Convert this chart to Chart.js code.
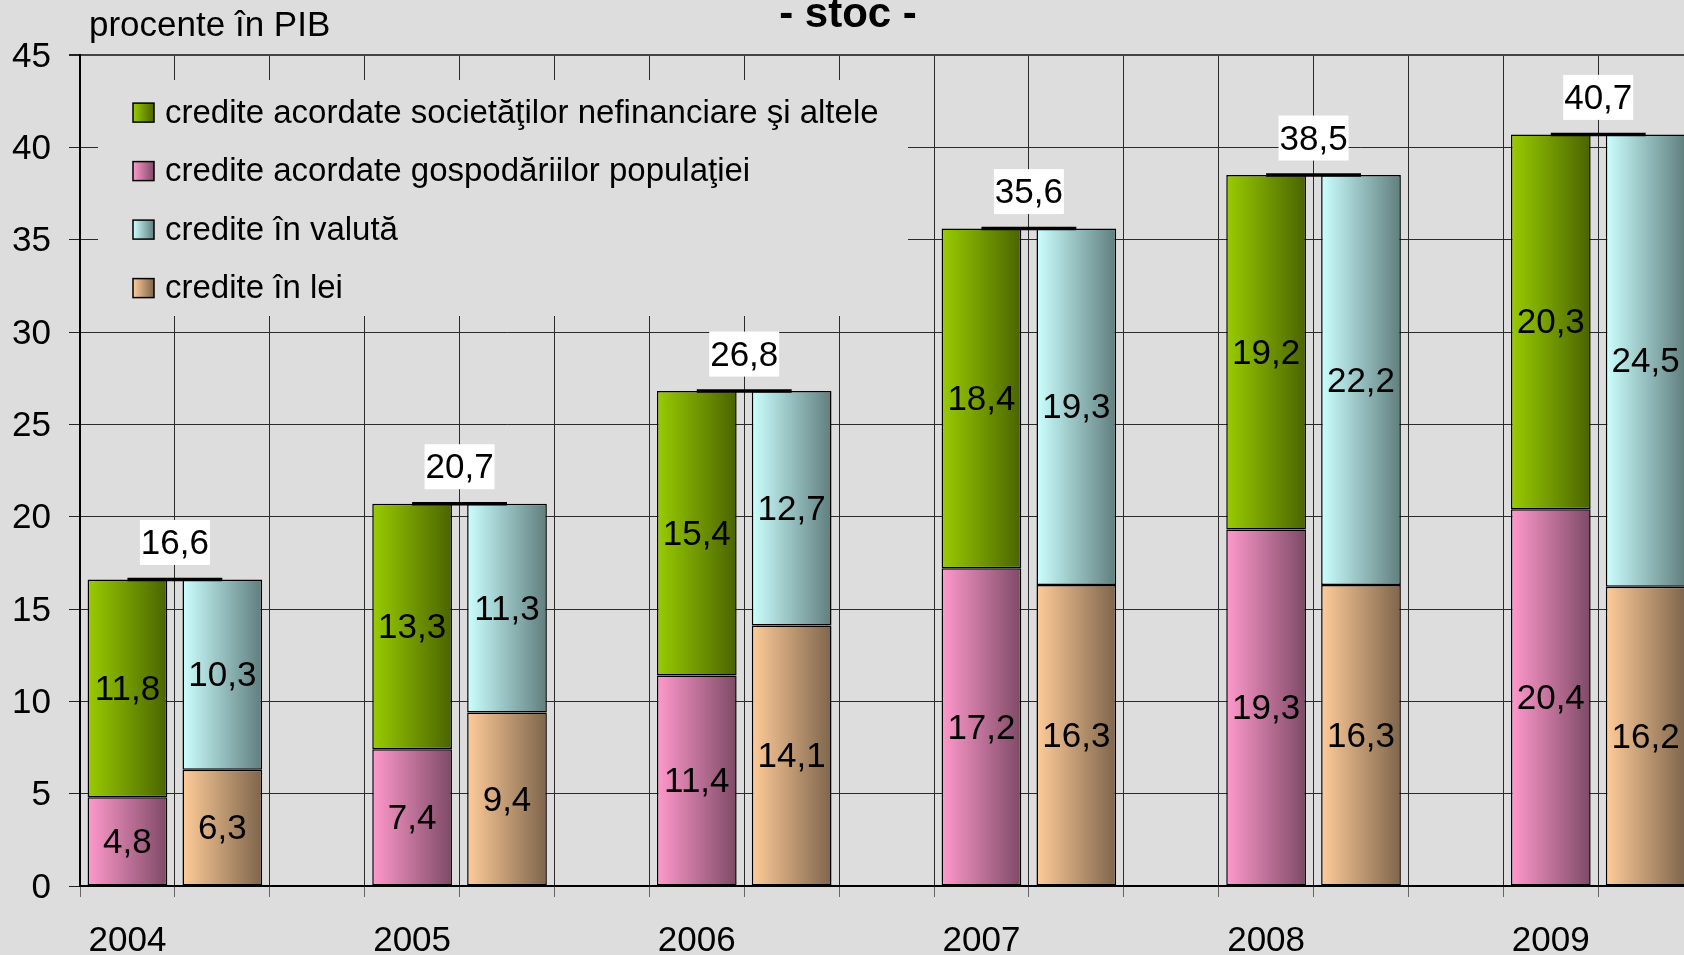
<!DOCTYPE html>
<html><head><meta charset="utf-8">
<script src="https://cdn.jsdelivr.net/npm/chart.js@4.4.1/dist/chart.umd.min.js"></script>
<style>
html,body{margin:0;padding:0;background:#dddddd;overflow:hidden;width:1684px;height:955px}
canvas{display:block}
</style></head><body>
<canvas id="c" width="1795" height="955"></canvas>
<script>
// ---- data ----
const years = ['2004', '2005', '2006', '2007', '2008', '2009'];
const societati = [11.8, 13.3, 15.4, 18.4, 19.2, 20.3];   // green
const gospodarii = [4.8, 7.4, 11.4, 17.2, 19.3, 20.4];    // pink
const valuta = [10.3, 11.3, 12.7, 19.3, 22.2, 24.5];      // cyan
const lei = [6.3, 9.4, 14.1, 16.3, 16.3, 16.2];           // orange
const totals = [16.6, 20.7, 26.8, 35.6, 38.5, 40.7];
const seriesNames = [
  'credite acordate societăţilor nefinanciare şi altele',
  'credite acordate gospodăriilor populaţiei',
  'credite în valută',
  'credite în lei'
];
const chartTitle = '- stoc -';
const unitLabel = 'procente în PIB';

const FONT = '"Liberation Sans", Arial, sans-serif';
const BAR_PCT = 0.84;

// three slots per year: [households/companies stack, lei/valuta stack, gap]
const slotLabels = [];
years.forEach(y => slotLabels.push(y, '', ''));
const slotA = arr => arr.flatMap(v => [v, null, null]);
const slotB = arr => arr.flatMap(v => [null, v, null]);
const slotAB = arr => arr.flatMap(v => [v, v, null]);

const colors = {
  green: ['#99cc00', '#4a6400'],
  pink: ['#ff99cc', '#7e4a66'],
  cyan: ['#ccffff', '#607e7e'],
  orange: ['#ffcc99', '#7e654c']
};

function grad(pair) {
  return (ctx) => {
    const chart = ctx.chart;
    const xs = chart.scales && chart.scales.x;
    if (!xs || ctx.dataIndex === undefined || !isFinite(xs.width)) return pair[0];
    const cx = xs.getPixelForValue(ctx.dataIndex);
    const w = (xs.width / slotLabels.length) * BAR_PCT;
    const g = chart.ctx.createLinearGradient(cx - w / 2, 0, cx + w / 2, 0);
    g.addColorStop(0, pair[0]);
    g.addColorStop(1, pair[1]);
    return g;
  };
}

const fmt = v => v.toFixed(1).replace('.', ',');

const barCommon = {
  type: 'bar', stack: 'bars', order: 1,
  borderColor: '#000', borderWidth: 1.5, borderSkipped: false,
  barPercentage: BAR_PCT, categoryPercentage: 1
};

const datasets = [
  Object.assign({ label: seriesNames[1], data: slotA(gospodarii), backgroundColor: grad(colors.pink) }, barCommon),
  Object.assign({ label: seriesNames[0], data: slotA(societati), backgroundColor: grad(colors.green) }, barCommon),
  Object.assign({ label: seriesNames[3], data: slotB(lei), backgroundColor: grad(colors.orange) }, barCommon),
  Object.assign({ label: seriesNames[2], data: slotB(valuta), backgroundColor: grad(colors.cyan) }, barCommon),
  { type: 'line', label: 'total', data: slotAB(totals), stack: 'total', order: 0,
    borderColor: '#000', borderWidth: 3.5, pointRadius: 0, spanGaps: false, tension: 0, fill: false }
];
const LINE_INDEX = 4;

const legendItems = [
  { text: seriesNames[0], c: colors.green },
  { text: seriesNames[1], c: colors.pink },
  { text: seriesNames[2], c: colors.cyan },
  { text: seriesNames[3], c: colors.orange }
];

const decorPlugin = {
  id: 'decor',
  beforeDatasetsDraw(chart) {
    const ctx = chart.ctx;
    ctx.save();
    // legend box (covers grid)
    ctx.fillStyle = '#dddddd';
    ctx.fillRect(98, 80, 810, 236);
    ctx.font = '33px ' + FONT;
    ctx.textBaseline = 'alphabetic';
    ctx.textAlign = 'left';
    legendItems.forEach((it, i) => {
      const base = 122.6 + i * 58.5;
      const sy = base - 19.5;
      const g = ctx.createLinearGradient(133, 0, 154, 0);
      g.addColorStop(0, it.c[0]); g.addColorStop(1, it.c[1]);
      ctx.fillStyle = g;
      ctx.fillRect(133, sy, 21, 19);
      ctx.strokeStyle = '#000'; ctx.lineWidth = 1.5;
      ctx.strokeRect(133, sy, 21, 19);
      ctx.fillStyle = '#000';
      ctx.fillText(it.text, 165, base);
    });
    // title + unit
    ctx.font = 'bold 42px ' + FONT;
    ctx.textAlign = 'center';
    ctx.fillText(chartTitle, 848, 27);
    ctx.font = '35px ' + FONT;
    ctx.textAlign = 'left';
    ctx.fillText(unitLabel, 89, 36);
    ctx.restore();
  },
  afterDatasetsDraw(chart) {
    const ctx = chart.ctx;
    ctx.save();
    ctx.font = '35px ' + FONT;
    ctx.textAlign = 'center';
    ctx.textBaseline = 'middle';
    ctx.fillStyle = '#000';
    chart.data.datasets.forEach((ds, di) => {
      if (ds.type !== 'bar') return;
      const meta = chart.getDatasetMeta(di);
      meta.data.forEach((el, i) => {
        const v = ds.data[i];
        if (v === null || v === undefined) return;
        const p = el.getProps(['x', 'y', 'base'], true);
        ctx.fillText(fmt(v), p.x, (p.y + p.base) / 2 + 2);
      });
    });
    const lm = chart.getDatasetMeta(LINE_INDEX);
    totals.forEach((t, k) => {
      const a = lm.data[3 * k], b = lm.data[3 * k + 1];
      const cx = (a.x + b.x) / 2, cy = a.y - 37;
      ctx.fillStyle = '#fff';
      ctx.fillRect(cx - 35, cy - 22.5, 70, 45);
      ctx.fillStyle = '#000';
      ctx.fillText(fmt(t), cx, cy + 2);
    });
    ctx.restore();
  }
};

new Chart(document.getElementById('c'), {
  data: { labels: slotLabels, datasets },
  options: {
    responsive: false,
    animation: false,
    layout: { padding: { top: 55, right: 7, left: 0, bottom: 0 } },
    plugins: { legend: { display: false }, tooltip: { enabled: false }, title: { display: false } },
    scales: {
      x: {
        stacked: true, offset: true,
        grid: { offset: true, color: '#2a2a2a', lineWidth: 1, tickLength: 11, tickColor: '#666', drawTicks: true },
        border: { color: '#000', width: 2 },
        ticks: { autoSkip: false, maxRotation: 0, minRotation: 0, padding: 23, color: '#000', font: { family: FONT, size: 35 } },
        afterFit: s => { s.height = 69; }
      },
      y: {
        stacked: true, min: 0, max: 45,
        ticks: { stepSize: 5, padding: 18, labelOffset: 2, color: '#000', font: { family: FONT, size: 35 } },
        grid: {
          color: c => (c.tick && c.tick.value === 45) ? '#444' : '#2a2a2a',
          lineWidth: c => (c.tick && c.tick.value === 45) ? 2 : 1,
          tickLength: 11, tickColor: '#222'
        },
        border: { color: '#000', width: 2 },
        afterFit: s => { s.width = 80; }
      }
    }
  },
  plugins: [decorPlugin]
});
</script>
</body></html>
